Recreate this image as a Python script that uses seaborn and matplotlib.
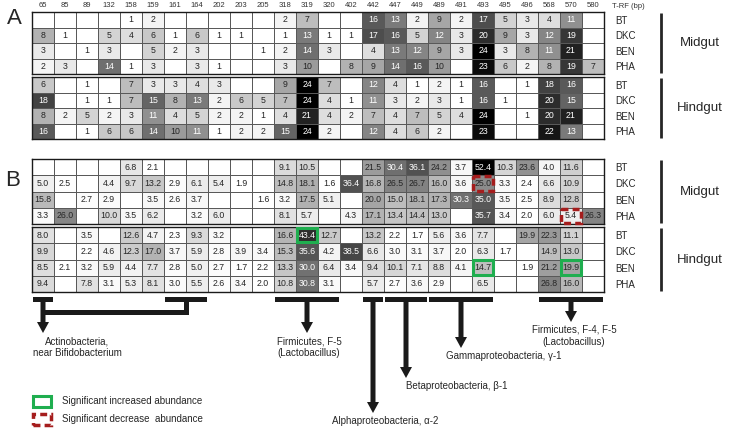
import matplotlib
matplotlib.use('Agg')
import matplotlib.pyplot as plt
from matplotlib.colors import LinearSegmentedColormap
from matplotlib.patches import Rectangle, FancyArrow
import numpy as np
import seaborn as sns

sns.set_style('white')
plt.rcParams['font.family'] = ['Liberation Sans', 'DejaVu Sans']

nan = np.nan
trf = [65, 85, 89, 132, 158, 159, 161, 164, 202, 203, 205, 318, 319, 320,
       402, 442, 447, 449, 489, 491, 493, 495, 496, 568, 570, 580]
samples = ['BT', 'DKC', 'BEN', 'PHA']

# A: number of T-RFs
a_mid = [
    [nan, nan, nan, nan, 1, 2, nan, nan, nan, nan, nan, 2, 7, nan, nan, 16, 13, 2, 9, 2, 17, 5, 3, 4, 11, nan],
    [8, 1, nan, 5, 4, 6, 1, 6, 1, 1, nan, 1, 13, 1, 1, 17, 16, 5, 12, 3, 20, 9, 3, 12, 19, nan],
    [3, nan, 1, 3, nan, 5, 2, 3, nan, nan, 1, 2, 14, 3, nan, 4, 13, 12, 9, 3, 24, 3, 8, 11, 21, nan],
    [2, 3, nan, 14, 1, 3, nan, 3, 1, nan, nan, 3, 10, nan, 8, 9, 14, 16, 10, nan, 23, 6, 2, 8, 19, 7],
]
a_hind = [
    [6, nan, 1, nan, 7, 3, 3, 4, 3, nan, nan, 9, 24, 7, nan, 12, 4, 1, 2, 1, 16, nan, 1, 18, 16, nan],
    [18, nan, 1, 1, 7, 15, 8, 13, 2, 6, 5, 7, 24, 4, 1, 11, 3, 2, 3, 1, 16, 1, nan, 20, 15, nan],
    [8, 2, 5, 2, 3, 11, 4, 5, 2, 2, 1, 4, 21, 4, 2, 7, 4, 7, 5, 4, 24, nan, 1, 20, 21, nan],
    [16, nan, 1, 6, 6, 14, 10, 11, 1, 2, 2, 15, 24, 2, nan, 12, 4, 6, 2, nan, 23, nan, nan, 22, 13, nan],
]
# B: relative abundance (%)
b_mid = [
    [nan, nan, nan, nan, 6.8, 2.1, nan, nan, nan, nan, nan, 9.1, 10.5, nan, nan, 21.5, 30.4, 36.1, 24.2, 3.7, 52.4, 10.3, 23.6, 4.0, 11.6, nan],
    [5.0, 2.5, nan, 4.4, 9.7, 13.2, 2.9, 6.1, 5.4, 1.9, nan, 14.8, 18.1, 1.6, 36.4, 16.8, 26.5, 26.7, 16.0, 3.6, 25.0, 3.3, 2.4, 6.6, 10.9, nan],
    [15.8, nan, 2.7, 2.9, nan, 3.5, 2.6, 3.7, nan, nan, 1.6, 3.2, 17.5, 5.1, nan, 20.0, 15.0, 18.1, 17.3, 30.3, 35.0, 3.5, 2.5, 8.9, 12.8, nan],
    [3.3, 26.0, nan, 10.0, 3.5, 6.2, nan, 3.2, 6.0, nan, nan, 8.1, 5.7, nan, 4.3, 17.1, 13.4, 14.4, 13.0, nan, 35.7, 3.4, 2.0, 6.0, 5.4, 26.3],
]
b_hind = [
    [8.0, nan, 3.5, nan, 12.6, 4.7, 2.3, 9.3, 3.2, nan, nan, 16.6, 43.4, 12.7, nan, 13.2, 2.2, 1.7, 5.6, 3.6, 7.7, nan, 19.9, 22.3, 11.1, nan],
    [9.9, nan, 2.2, 4.6, 12.3, 17.0, 3.7, 5.9, 2.8, 3.9, 3.4, 15.3, 35.6, 4.2, 38.5, 6.6, 3.0, 3.1, 3.7, 2.0, 6.3, 1.7, nan, 14.9, 13.0, nan],
    [8.5, 2.1, 3.2, 5.9, 4.4, 7.7, 2.8, 5.0, 2.7, 1.7, 2.2, 13.3, 30.0, 6.4, 3.4, 9.4, 10.1, 7.1, 8.8, 4.1, 14.7, nan, 1.9, 21.2, 19.9, nan],
    [9.4, nan, 7.8, 3.1, 5.3, 8.1, 3.0, 5.5, 2.6, 3.4, 2.0, 10.8, 30.8, 3.1, nan, 5.7, 2.7, 3.6, 2.9, nan, 6.5, nan, nan, 26.8, 16.0, nan],
]
# significant cells: (sample, T-RF)
increased = [('BT', 319), ('BEN', 493), ('BEN', 570)]
decreased = [('DKC', 493), ('PHA', 570)]

groups = ['Actinobacteria,\nnear Bifidobacterium', 'Firmicutes, F-5\n(Lactobacillus)',
          'Alphaproteobacteria, α-2', 'Betaproteobacteria, β-1',
          'Gammaproteobacteria, γ-1', 'Firmicutes, F-4, F-5\n(Lactobacillus)']
group_trf = [[[65], [161, 164]], [[318, 319, 320]], [[442]], [[447, 449]],
             [[489, 491, 493]], [[568, 570, 580]]]
arrow_tip = [333, 333, 413, 378, 348, 322]
text_dx = [34, 2, 12, 51, 43, 3]

W, H = 732, 430
fig = plt.figure(figsize=(W / 100, H / 100), dpi=100)
cmap = LinearSegmentedColormap.from_list('grey', ['white', 'black'])


def px_axes(l, t, r, b):
    return fig.add_axes([l / W, 1 - b / H, (r - l) / W, (b - t) / H])


def draw(ax, rows, vmin, vmax, fmt, white_from, top=False):
    data = np.array(rows, dtype=float)
    labels = np.array([['' if np.isnan(v) else fmt.format(v) for v in r] for r in data])
    sns.heatmap(np.nan_to_num(data), ax=ax, cmap=cmap, vmin=vmin, vmax=vmax, cbar=False,
                annot=labels, fmt='', annot_kws={'fontsize': 6.3},
                linewidths=0.6, linecolor='0.35',
                xticklabels=trf if top else False, yticklabels=samples)
    for t, v in zip(ax.texts, data.flat):
        t.set_color('white' if v >= white_from else '0.15')
    ax.yaxis.tick_right()
    ax.tick_params(axis='y', length=0, pad=8, labelsize=7, rotation=0)
    for lab in ax.get_yticklabels():
        lab.set_ha('left')
    if top:
        ax.xaxis.tick_top()
        ax.tick_params(axis='x', length=0, pad=2, labelsize=5.5, rotation=0, colors='0.2')
    for s in ax.spines.values():
        s.set_visible(True)
        s.set_linewidth(1)
        s.set_color('0.1')


ax_am = px_axes(32, 12, 604, 74)
ax_ah = px_axes(32, 77, 604, 139)
ax_bm = px_axes(32, 159, 604, 224)
ax_bh = px_axes(32, 227, 604, 292)
draw(ax_am, a_mid, 1, 24, '{:.0f}', 11, top=True)
draw(ax_ah, a_hind, 1, 24, '{:.0f}', 11)
draw(ax_bm, b_mid, 2, 52.4, '{:.1f}', 30)
draw(ax_bh, b_hind, 2, 52.4, '{:.1f}', 30)

# significance boxes
for ax, rows in [(ax_bm, b_mid), (ax_bh, b_hind)]:
    for s, t in increased:
        if ax is ax_bh:
            ax.add_patch(Rectangle((trf.index(t) + 0.03, samples.index(s) + 0.05), 0.94, 0.9,
                                   fill=False, ec='#1fae4f', lw=2.2, clip_on=False, zorder=5))
    for s, t in decreased:
        if ax is ax_bm:
            ax.add_patch(Rectangle((trf.index(t) + 0.03, samples.index(s) + 0.05), 0.94, 0.9,
                                   fill=False, ec='#a51d1d', lw=2.5, ls=(0, (2, 1.2)),
                                   clip_on=False, zorder=5))

# overlay in pixel units
ov = fig.add_axes([0, 0, 1, 1])
ov.set_xlim(0, W)
ov.set_ylim(0, H)
ov.axis('off')


def colx(ax, i):
    return ax.transData.transform((i, 0))[0]


fig.text(612 / W, 1 - 7 / H, 'T-RF (bp)', fontsize=5.5, color='0.2', va='center')
fig.text(7 / W, 1 - 19 / H, 'A', fontsize=16, va='center')
fig.text(5 / W, 1 - 180 / H, 'B', fontsize=16, va='center')

for ax, name in [(ax_am, 'Midgut'), (ax_ah, 'Hindgut'), (ax_bm, 'Midgut'), (ax_bh, 'Hindgut')]:
    y0 = ax.transData.transform((0, 0))[1]
    y1 = ax.transData.transform((0, 4))[1]
    ov.plot([661, 661], [y0 - 1, y1 + 1], color='0.15', lw=2, solid_capstyle='butt')
    ov.text(700, (y0 + y1) / 2, name, fontsize=9.5, ha='center', va='center')

bar_top = H - 297
bar_h = 5
for name, parts, tip, dx in zip(groups, group_trf, arrow_tip, text_dx):
    centers = []
    for part in parts:
        i0, i1 = trf.index(part[0]), trf.index(part[-1]) + 1
        x0, x1 = colx(ax_bh, i0) + 1, colx(ax_bh, i1) - 1
        ov.add_patch(Rectangle((x0, bar_top - bar_h), x1 - x0, bar_h, color='0.1', lw=0))
        centers.append((x0 + x1) / 2)
    ax_x = centers[0]
    if len(centers) > 1:
        yc = H - 312
        ov.add_patch(Rectangle((centers[0] - 2.5, yc - 2.5), centers[1] - centers[0] + 5, 5,
                               color='0.1', lw=0))
        ov.add_patch(Rectangle((centers[1] - 2.5, yc - 2.5), 5, bar_top - bar_h - yc + 2.5,
                               color='0.1', lw=0))
    start = bar_top - bar_h
    ov.add_patch(FancyArrow(ax_x, start, 0, (H - tip) - start, width=5, head_width=12,
                            head_length=11, length_includes_head=True, color='0.1', lw=0))
    ov.text(ax_x + dx, H - tip - 3, name, fontsize=7, ha='center', va='top',
            linespacing=1.25, color='0.15')

# legend
ov.add_patch(Rectangle((33, H - 407), 18, 11, fill=False, ec='#1fae4f', lw=2.2))
ov.add_patch(Rectangle((33, H - 425), 18, 11, fill=False, ec='#a51d1d', lw=2.5,
                       ls=(0, (2, 1.2))))
ov.text(62, H - 401, 'Significant increased abundance', fontsize=7, va='center', color='0.15')
ov.text(62, H - 419, 'Significant decrease  abundance', fontsize=7, va='center', color='0.15')

fig.savefig('out.png', dpi=100)
